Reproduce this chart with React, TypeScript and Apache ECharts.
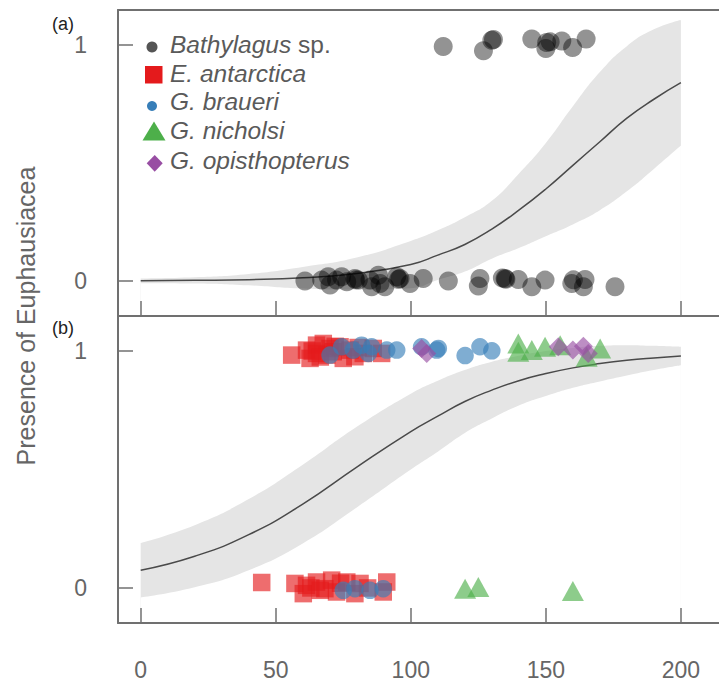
import React, { useEffect, useRef } from 'react';
import * as echarts from 'echarts';

// ---------- data ----------
const xTicks = [0, 50, 100, 150, 200];
const yTicks = [0, 1];
const yTickLabels = ['0', '1'];

const curveX = [0, 20, 40, 60, 80, 100, 110, 120, 130, 140, 150, 160, 170, 180, 190, 200];
// panel (a) fitted curve and confidence band
const fitA = [0.001, 0.003, 0.006, 0.014, 0.032, 0.07, 0.11, 0.155, 0.22, 0.3, 0.39, 0.49, 0.59, 0.69, 0.77, 0.84];
const upperA = [0.011, 0.016, 0.03, 0.06, 0.1, 0.17, 0.215, 0.27, 0.34, 0.455, 0.585, 0.74, 0.885, 0.995, 1.066, 1.106];
const lowerA = [-0.009, -0.01, -0.018, -0.032, -0.036, -0.03, 0.005, 0.04, 0.095, 0.14, 0.19, 0.24, 0.3, 0.38, 0.475, 0.574];
// panel (b) fitted curve and confidence band
const fitB = [0.075, 0.134, 0.225, 0.354, 0.51, 0.66, 0.725, 0.787, 0.835, 0.875, 0.905, 0.929, 0.947, 0.961, 0.971, 0.979];
const upperB = [0.19, 0.265, 0.375, 0.52, 0.68, 0.82, 0.875, 0.92, 0.955, 0.98, 1.0, 1.013, 1.022, 1.025, 1.022, 1.018];
const lowerB = [-0.04, 0.003, 0.075, 0.188, 0.34, 0.5, 0.575, 0.654, 0.715, 0.77, 0.81, 0.845, 0.872, 0.897, 0.92, 0.94];

// panel (a): Bathylagus sp. (length, jittered presence)
const bathylagus: number[][] = [
  [112.0, 0.993], [126.9, 0.975], [130.0, 1.02], [130.6, 1.023], [144.8, 1.025], [150.0, 0.985],
  [150.3, 1.01], [151.6, 1.013], [155.9, 1.017], [159.9, 0.989], [164.9, 1.025],
  [60.8, 0.0], [67.0, 0.004], [69.4, 0.018], [70.1, -0.017], [72.5, 0.004], [74.4, 0.018],
  [76.3, -0.003], [79.3, 0.011], [79.6, 0.005], [80.6, 0.004], [84.9, 0.004], [85.5, -0.024],
  [88.0, 0.025], [88.6, -0.01], [90.4, -0.024], [94.8, 0.018], [95.5, 0.008], [96.0, 0.011],
  [99.7, -0.01], [104.6, 0.011], [113.9, 0.0], [125.6, 0.011], [125.0, -0.021], [134.9, 0.011],
  [133.9, 0.013], [135.2, 0.008], [139.8, 0.007], [144.8, -0.024], [149.7, 0.004], [159.6, -0.01],
  [160.2, 0.005], [164.5, 0.007], [163.9, -0.024], [175.6, -0.024],
];

// panel (b)
const eAntarctica: number[][] = [
  [55.9, 0.983], [61.4, 1.004], [62.7, 0.969], [65.1, 1.025], [65.1, 0.99], [67.6, 1.032],
  [68.9, 0.983], [70.1, 1.011], [71.3, 0.997], [73.8, 1.018], [75.0, 0.969], [77.5, 1.004],
  [79.3, 0.976], [82.4, 0.99], [86.1, 1.011], [89.2, 0.99], [63.5, 1.0], [66.5, 0.975],
  [72.0, 1.02], [80.5, 1.015],
  [44.8, 0.023], [57.1, 0.019], [60.2, -0.024], [61.4, 0.011], [63.0, 0.0], [65.1, 0.025],
  [66.5, -0.01], [68.2, -0.003], [70.7, 0.033], [72.5, -0.017], [74.0, 0.02], [76.3, 0.025],
  [79.3, -0.024], [81.2, 0.019], [84.0, 0.0], [89.8, -0.017], [91.1, 0.025],
];
const gBraueri: number[][] = [
  [70.1, 0.983], [74.4, 1.018], [78.7, 1.004], [81.8, 1.025], [84.3, 0.99], [85.5, 1.018],
  [91.1, 1.004], [94.8, 1.004], [104.0, 1.018], [109.6, 1.004], [110.2, 1.011], [120.1, 0.981],
  [125.6, 1.018], [130.0, 1.001],
  [75.0, -0.01], [79.3, -0.003], [84.9, -0.01], [89.8, -0.003],
];
const gNicholsi: number[][] = [
  [139.8, 1.032], [139.8, 0.997], [144.8, 1.004], [149.7, 1.018], [155.3, 1.025], [165.1, 0.976],
  [170.1, 1.011],
  [120.1, -0.003], [125.0, 0.004], [160.0, -0.013],
];
const gOpisthopterus: number[][] = [
  [104.0, 1.011], [105.9, 0.99], [154.6, 1.018], [160.0, 1.004], [163.9, 1.02], [165.7, 0.99],
];

const legendNames = ['Bathylagus sp.', 'E. antarctica', 'G. braueri', 'G. nicholsi', 'G. opisthopterus'];
const yAxisName = 'Presence of Euphausiacea';
const panelLabels = ['(a)', '(b)'];

// ---------- styles ----------
const FONT = '"Liberation Sans", Arial, Helvetica, sans-serif';
const AXIS = '#707070';
const TXT = '#666666';
const BAND = '#e5e5e5';
const LINE = '#4a4a4a';
const C_BATHY = 'rgba(0,0,0,0.53)';
const C_RED = 'rgba(228,26,28,0.8)';
const C_BLUE = 'rgba(55,126,184,0.8)';
const C_GREEN = 'rgba(77,175,74,0.8)';
const C_PURPLE = 'rgba(152,78,163,0.8)';

const X_MIN = -8.4;
const X_MAX = 214.1;
const Y_MIN = -0.148;
const Y_MAX = 1.148;

function xAxis(gridIndex: number, showLabels: boolean) {
  return {
    type: 'value', gridIndex, min: X_MIN, max: X_MAX, z: 10,
    axisLine: { show: true, onZero: false, lineStyle: { color: AXIS, width: 2 } },
    axisTick: { show: true, inside: true, length: 15, customValues: xTicks, lineStyle: { color: AXIS, width: 1.5 } },
    axisLabel: { show: showLabels, customValues: xTicks, margin: 35, fontSize: 23, color: TXT, fontFamily: FONT },
    splitLine: { show: false },
  };
}
function yAxis(gridIndex: number) {
  return {
    type: 'value', gridIndex, min: Y_MIN, max: Y_MAX, z: 10,
    axisLine: { show: true, onZero: false, lineStyle: { color: AXIS, width: 2 } },
    axisTick: { show: true, inside: true, length: 15, customValues: yTicks, lineStyle: { color: AXIS, width: 1.5 } },
    axisLabel: {
      show: true, customValues: yTicks, margin: 31, fontSize: 23, color: TXT, fontFamily: FONT,
      formatter: (v: number) => yTickLabels[yTicks.indexOf(Math.round(v))] ?? '',
    },
    splitLine: { show: false },
  };
}

// band = grey area under the upper bound, masked by white area under the lower bound
function bandSeries(idx: number, lower: number[], upper: number[]) {
  return [
    {
      type: 'line', xAxisIndex: idx, yAxisIndex: idx,
      data: curveX.map((x, i) => [x, upper[i]]), smooth: true, symbol: 'none', silent: true,
      lineStyle: { opacity: 0 }, areaStyle: { color: BAND, opacity: 1, origin: 'start' }, z: 1,
    },
    {
      type: 'line', xAxisIndex: idx, yAxisIndex: idx,
      data: curveX.map((x, i) => [x, lower[i]]), smooth: true, symbol: 'none', silent: true,
      lineStyle: { opacity: 0 }, areaStyle: { color: '#ffffff', opacity: 1, origin: 'start' }, z: 1,
    },
  ];
}
function fitSeries(idx: number, fit: number[]) {
  return {
    type: 'line', xAxisIndex: idx, yAxisIndex: idx, data: curveX.map((x, i) => [x, fit[i]]),
    smooth: true, symbol: 'none', silent: true, lineStyle: { color: LINE, width: 1.5 }, z: 2,
  };
}
function scatter(idx: number, name: string, data: number[][], symbol: string, size: any, color: string) {
  return {
    type: 'scatter', name, xAxisIndex: idx, yAxisIndex: idx, data, symbol, symbolSize: size,
    itemStyle: { color }, z: 3, silent: true,
  };
}

function legendGraphics() {
  const x0 = 170;
  const ys = [44, 73, 101, 130, 160];
  const ts = { fontSize: 24.5, fill: '#5a5a5a', fontFamily: FONT };
  const texts = legendNames.map((n, i) => {
    let text = `{i|${n}}`;
    if (n.endsWith(' sp.')) text = `{i|${n.slice(0, -4)}}{n| sp.}`;
    return {
      type: 'text', x: x0, y: ys[i], z: 20,
      style: {
        text, verticalAlign: 'middle', align: 'left', ...ts,
        rich: { i: { ...ts, fontStyle: 'italic' }, n: { ...ts } },
      },
    };
  });
  const icons = [
    { type: 'circle', z: 20, shape: { cx: 152, cy: 47, r: 5.5 }, style: { fill: '#555555' } },
    { type: 'rect', z: 20, shape: { x: 145, y: 66, width: 17.5, height: 17.5 }, style: { fill: '#e41a1c' } },
    { type: 'circle', z: 20, shape: { cx: 152, cy: 106, r: 5 }, style: { fill: '#377eb8' } },
    { type: 'polygon', z: 20, shape: { points: [[154, 121.5], [165.5, 140.5], [142.5, 140.5]] }, style: { fill: '#4daf4a' } },
    { type: 'polygon', z: 20, shape: { points: [[154.7, 155], [162.7, 163.3], [154.7, 171.7], [146.7, 163.3]] }, style: { fill: '#984ea3' } },
  ];
  return [...icons, ...texts];
}

export default function App() {
  const ref = useRef<HTMLDivElement>(null);
  useEffect(() => {
    if (!ref.current) return;
    const chart = echarts.init(ref.current, null, { renderer: 'svg' });
    const option: any = {
      animation: false,
      backgroundColor: '#ffffff',
      grid: [
        { left: 118, top: 10, width: 601, height: 306 },
        { left: 118, top: 316, width: 601, height: 307 },
      ],
      xAxis: [
        xAxis(0, false),
        xAxis(1, true),
        {
          type: 'value', gridIndex: 0, position: 'top', min: X_MIN, max: X_MAX, z: 10,
          axisLine: { show: true, onZero: false, lineStyle: { color: AXIS, width: 2 } },
          axisTick: { show: false }, axisLabel: { show: false }, splitLine: { show: false },
        },
      ],
      yAxis: [yAxis(0), yAxis(1)],
      series: [
        ...bandSeries(0, lowerA, upperA),
        fitSeries(0, fitA),
        ...bandSeries(1, lowerB, upperB),
        fitSeries(1, fitB),
        scatter(0, legendNames[0], bathylagus, 'circle', 19, C_BATHY),
        scatter(1, legendNames[1], eAntarctica, 'rect', 17.5, C_RED),
        scatter(1, legendNames[2], gBraueri, 'circle', 17.5, C_BLUE),
        scatter(1, legendNames[3], gNicholsi, 'triangle', [22, 20], C_GREEN),
        scatter(1, legendNames[4], gOpisthopterus, 'diamond', [19, 19], C_PURPLE),
      ],
      graphic: [
        ...legendGraphics(),
        {
          type: 'text', x: 26, y: 316, rotation: Math.PI / 2, z: 20,
          style: { text: yAxisName, fontSize: 25, fill: TXT, fontFamily: FONT, align: 'center', verticalAlign: 'middle' },
        },
        { type: 'text', x: 52, y: 24, z: 20, style: { text: panelLabels[0], fontSize: 18, fill: '#222', fontFamily: FONT, verticalAlign: 'middle' } },
        { type: 'text', x: 52, y: 328, z: 20, style: { text: panelLabels[1], fontSize: 18, fill: '#222', fontFamily: FONT, verticalAlign: 'middle' } },
      ],
    };
    chart.setOption(option);
    return () => chart.dispose();
  }, []);
  return (
    <div
      ref={ref}
      style={{ position: 'fixed', left: 0, top: 0, width: 719, height: 682, background: '#fff' }}
    />
  );
}
